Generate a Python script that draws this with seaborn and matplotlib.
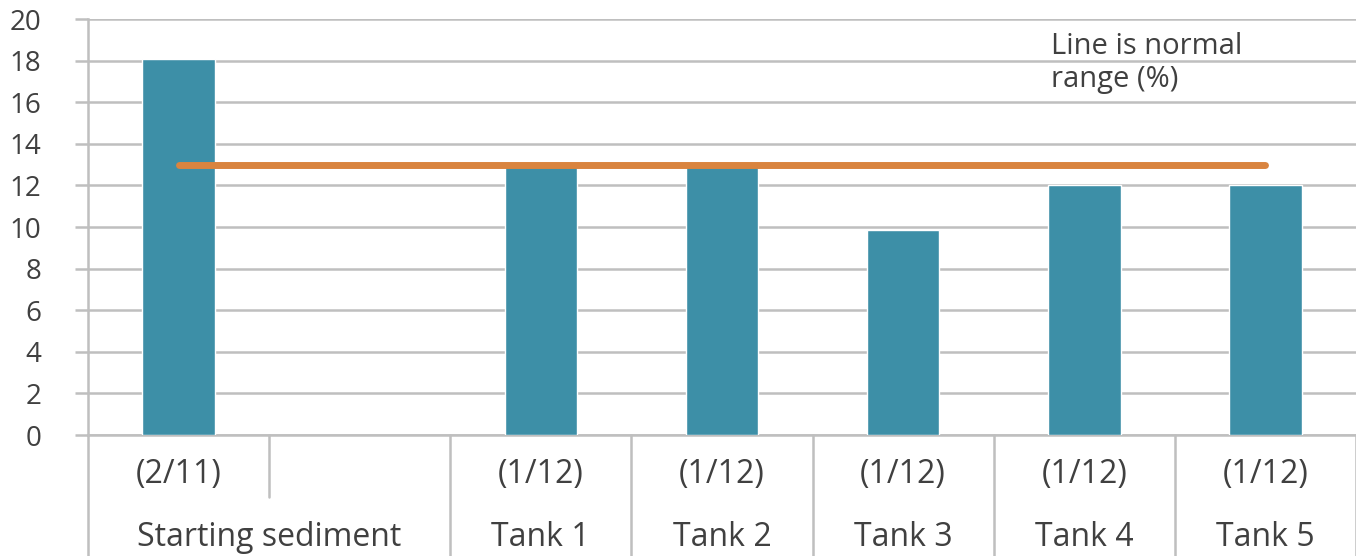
import matplotlib
matplotlib.use("Agg")
import matplotlib.pyplot as plt
import matplotlib.transforms as mtransforms
import seaborn as sns
import numpy as np
import pandas as pd

# ---- data ----
slots = ["s0", "s1", "t1", "t2", "t3", "t4", "t5"]
values = [18.1, np.nan, 13.0, 13.0, 9.85, 12.0, 12.0]
date_labels = ["(2/11)", "", "(1/12)", "(1/12)", "(1/12)", "(1/12)", "(1/12)"]
group_labels = ["Starting sediment", "Tank 1", "Tank 2", "Tank 3", "Tank 4", "Tank 5"]
group_spans = [(0, 1), (2, 2), (3, 3), (4, 4), (5, 5), (6, 6)]
normal_level = 13.0
note_text = "Line is normal\nrange (%)"
y_ticks = list(range(0, 21, 2))

sns.set_theme(style="white")
plt.rcParams['font.family'] = ['Open Sans', 'DejaVu Sans']

W, H, DPI = 1356, 556, 100
fig = plt.figure(figsize=(W / DPI, H / DPI), dpi=DPI)
ax = fig.add_axes([88 / W, (H - 435) / H, (W - 88) / W, (435 - 19) / H])

df = pd.DataFrame({"slot": slots, "value": values})
bar_color = "#3D8FA7"
sns.barplot(data=df, x="slot", y="value", color=bar_color, width=0.4,
            saturation=1, ax=ax, zorder=3)

# normal range line
ax.plot([0, len(slots) - 1], [normal_level, normal_level], color="#D9843F",
        lw=5, solid_capstyle="round", zorder=4)

grid_c = "#BFBFBF"
text_c = "#404040"
ax.set_ylim(0, 20)
ax.set_xlim(-0.5, len(slots) - 0.5)
ax.set_yticks(y_ticks)
ax.set_yticklabels([str(v) for v in y_ticks])
ax.yaxis.grid(True, color=grid_c, lw=1.8, zorder=0)
ax.set_axisbelow(True)
ax.tick_params(axis="y", direction="out", length=9.4, width=1.8, color=grid_c,
               pad=24, labelsize=20, labelcolor=text_c, left=True)
ax.tick_params(axis="x", bottom=False, labelbottom=False)
ax.set_xlabel("")
ax.set_ylabel("")
for s in ["top", "right"]:
    ax.spines[s].set_visible(False)
ax.spines["left"].set_color(grid_c)
ax.spines["left"].set_linewidth(1.8)
ax.spines["bottom"].set_color(grid_c)
ax.spines["bottom"].set_linewidth(1.8)

# note
fig.text(1051 / W, 1 - 63 / H, note_text, ha="left", va="center",
         fontsize=21, color=text_c, linespacing=1.2)

# multi-level category axis
trans = mtransforms.blended_transform_factory(ax.transData, fig.transFigure)
y_row1 = 1 - 475 / H
y_row2 = 1 - 537 / H
for i, lab in enumerate(date_labels):
    if lab:
        ax.text(i, y_row1, lab, transform=trans, ha="center", va="center",
                fontsize=23, color=text_c, clip_on=False)
for lab, (a, b) in zip(group_labels, group_spans):
    ax.text((a + b) / 2, y_row2, lab, transform=trans, ha="center", va="center",
            fontsize=23, color=text_c, clip_on=False)

y_top = 1 - 435 / H
y_mid = 1 - 497 / H
# separators between groups (full height) and within group (first row only)
bounds_full = [-0.5] + [b + 0.5 for (_, b) in group_spans]
for xb in bounds_full:
    ax.plot([xb, xb], [y_top, 0], transform=trans, color=grid_c, lw=1.8,
            clip_on=False)
for (a, b) in group_spans:
    for k in range(a, b):
        ax.plot([k + 0.5, k + 0.5], [y_top, y_mid], transform=trans,
                color=grid_c, lw=1.8, clip_on=False)

fig.savefig("out.png", dpi=DPI)
